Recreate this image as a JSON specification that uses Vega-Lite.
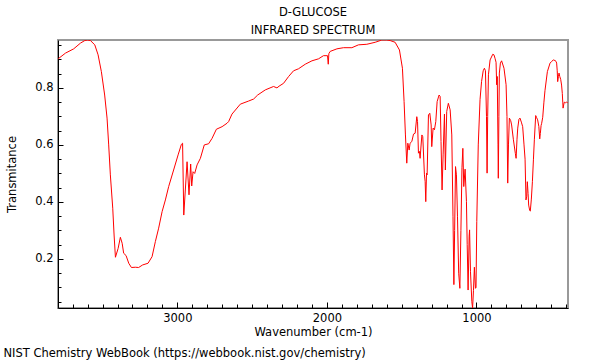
{
  "$schema": "https://vega.github.io/schema/vega-lite/v6.json",
  "width": 510,
  "height": 268,
  "autosize": {"type": "none"},
  "padding": {"left": 58, "top": 40, "right": 32, "bottom": 52},
  "background": "white",
  "config": {"font": "DejaVu Sans", "view": {"stroke": "#999999", "strokeWidth": 2}},
  "title": {"text": ["D-GLUCOSE", "INFRARED SPECTRUM"], "fontSize": 11.5, "fontWeight": "normal", "lineHeight": 18, "offset": 4, "anchor": "middle", "color": "black"},
  "data": {"values": [
    {"wn": 3797, "t": 0.902}, {"wn": 3748, "t": 0.922}, {"wn": 3693, "t": 0.937}, {"wn": 3648, "t": 0.957},
    {"wn": 3619, "t": 0.966}, {"wn": 3600, "t": 0.968}, {"wn": 3581, "t": 0.966}, {"wn": 3552, "t": 0.951},
    {"wn": 3530, "t": 0.916}, {"wn": 3508, "t": 0.857}, {"wn": 3486, "t": 0.775}, {"wn": 3470, "t": 0.694},
    {"wn": 3459, "t": 0.6}, {"wn": 3448, "t": 0.495}, {"wn": 3432, "t": 0.378}, {"wn": 3423, "t": 0.284},
    {"wn": 3414, "t": 0.206}, {"wn": 3396, "t": 0.237}, {"wn": 3381, "t": 0.276}, {"wn": 3369, "t": 0.255},
    {"wn": 3359, "t": 0.22}, {"wn": 3343, "t": 0.212}, {"wn": 3325, "t": 0.185}, {"wn": 3307, "t": 0.17},
    {"wn": 3281, "t": 0.171}, {"wn": 3259, "t": 0.17}, {"wn": 3232, "t": 0.179}, {"wn": 3196, "t": 0.185},
    {"wn": 3169, "t": 0.208}, {"wn": 3147, "t": 0.261}, {"wn": 3125, "t": 0.308}, {"wn": 3102, "t": 0.366},
    {"wn": 3080, "t": 0.407}, {"wn": 3058, "t": 0.454}, {"wn": 3025, "t": 0.512}, {"wn": 2995, "t": 0.565},
    {"wn": 2973, "t": 0.602}, {"wn": 2965, "t": 0.606}, {"wn": 2957, "t": 0.354}, {"wn": 2935, "t": 0.541},
    {"wn": 2922, "t": 0.425}, {"wn": 2911, "t": 0.533}, {"wn": 2904, "t": 0.456}, {"wn": 2895, "t": 0.506},
    {"wn": 2884, "t": 0.5}, {"wn": 2868, "t": 0.53}, {"wn": 2846, "t": 0.553}, {"wn": 2820, "t": 0.6},
    {"wn": 2791, "t": 0.604}, {"wn": 2768, "t": 0.623}, {"wn": 2739, "t": 0.655}, {"wn": 2701, "t": 0.664},
    {"wn": 2668, "t": 0.676}, {"wn": 2657, "t": 0.682}, {"wn": 2635, "t": 0.708}, {"wn": 2579, "t": 0.743},
    {"wn": 2523, "t": 0.754}, {"wn": 2490, "t": 0.761}, {"wn": 2463, "t": 0.775}, {"wn": 2412, "t": 0.793},
    {"wn": 2357, "t": 0.805}, {"wn": 2334, "t": 0.8}, {"wn": 2320, "t": 0.806}, {"wn": 2290, "t": 0.816},
    {"wn": 2256, "t": 0.84}, {"wn": 2223, "t": 0.86}, {"wn": 2190, "t": 0.867}, {"wn": 2145, "t": 0.883},
    {"wn": 2100, "t": 0.895}, {"wn": 2056, "t": 0.902}, {"wn": 2023, "t": 0.913}, {"wn": 1996, "t": 0.913},
    {"wn": 1991, "t": 0.883}, {"wn": 1987, "t": 0.92}, {"wn": 1978, "t": 0.928}, {"wn": 1933, "t": 0.937},
    {"wn": 1889, "t": 0.941}, {"wn": 1833, "t": 0.941}, {"wn": 1789, "t": 0.951}, {"wn": 1733, "t": 0.953},
    {"wn": 1677, "t": 0.96}, {"wn": 1633, "t": 0.968}, {"wn": 1600, "t": 0.968}, {"wn": 1577, "t": 0.966},
    {"wn": 1544, "t": 0.96}, {"wn": 1515, "t": 0.933}, {"wn": 1495, "t": 0.869}, {"wn": 1484, "t": 0.752},
    {"wn": 1475, "t": 0.635}, {"wn": 1466, "t": 0.536}, {"wn": 1459, "t": 0.606}, {"wn": 1450, "t": 0.582},
    {"wn": 1444, "t": 0.606}, {"wn": 1432, "t": 0.612}, {"wn": 1421, "t": 0.638}, {"wn": 1410, "t": 0.641},
    {"wn": 1399, "t": 0.699}, {"wn": 1394, "t": 0.682}, {"wn": 1388, "t": 0.571}, {"wn": 1381, "t": 0.577},
    {"wn": 1377, "t": 0.553}, {"wn": 1365, "t": 0.635}, {"wn": 1359, "t": 0.629}, {"wn": 1348, "t": 0.495},
    {"wn": 1343, "t": 0.471}, {"wn": 1339, "t": 0.401}, {"wn": 1334, "t": 0.501}, {"wn": 1330, "t": 0.495},
    {"wn": 1321, "t": 0.705}, {"wn": 1312, "t": 0.711}, {"wn": 1303, "t": 0.67}, {"wn": 1299, "t": 0.594},
    {"wn": 1290, "t": 0.659}, {"wn": 1281, "t": 0.653}, {"wn": 1272, "t": 0.682}, {"wn": 1263, "t": 0.752},
    {"wn": 1250, "t": 0.775}, {"wn": 1243, "t": 0.77}, {"wn": 1237, "t": 0.612}, {"wn": 1230, "t": 0.442},
    {"wn": 1223, "t": 0.565}, {"wn": 1214, "t": 0.708}, {"wn": 1208, "t": 0.512}, {"wn": 1199, "t": 0.717},
    {"wn": 1188, "t": 0.746}, {"wn": 1176, "t": 0.723}, {"wn": 1165, "t": 0.635}, {"wn": 1157, "t": 0.35},
    {"wn": 1151, "t": 0.11}, {"wn": 1146, "t": 0.3}, {"wn": 1140, "t": 0.524}, {"wn": 1134, "t": 0.495},
    {"wn": 1127, "t": 0.35}, {"wn": 1119, "t": 0.15}, {"wn": 1111, "t": 0.097}, {"wn": 1104, "t": 0.3},
    {"wn": 1097, "t": 0.52}, {"wn": 1091, "t": 0.588}, {"wn": 1085, "t": 0.454}, {"wn": 1076, "t": 0.515},
    {"wn": 1067, "t": 0.401}, {"wn": 1062, "t": 0.25}, {"wn": 1056, "t": 0.091}, {"wn": 1049, "t": 0.28},
    {"wn": 1046, "t": 0.302}, {"wn": 1040, "t": 0.155}, {"wn": 1031, "t": 0.05}, {"wn": 1026, "t": 0.028},
    {"wn": 1020, "t": 0.09}, {"wn": 1014, "t": 0.171}, {"wn": 1007, "t": 0.097}, {"wn": 1003, "t": 0.1},
    {"wn": 998, "t": 0.331}, {"wn": 988, "t": 0.6}, {"wn": 976, "t": 0.76}, {"wn": 966, "t": 0.822},
    {"wn": 955, "t": 0.86}, {"wn": 947, "t": 0.869}, {"wn": 940, "t": 0.86}, {"wn": 933, "t": 0.7},
    {"wn": 929, "t": 0.501}, {"wn": 925, "t": 0.7}, {"wn": 920, "t": 0.846}, {"wn": 909, "t": 0.898},
    {"wn": 891, "t": 0.918}, {"wn": 883, "t": 0.916}, {"wn": 876, "t": 0.904}, {"wn": 869, "t": 0.89},
    {"wn": 865, "t": 0.811}, {"wn": 861, "t": 0.84}, {"wn": 856, "t": 0.6}, {"wn": 854, "t": 0.483},
    {"wn": 850, "t": 0.7}, {"wn": 847, "t": 0.852}, {"wn": 840, "t": 0.887}, {"wn": 832, "t": 0.895},
    {"wn": 816, "t": 0.869}, {"wn": 802, "t": 0.811}, {"wn": 796, "t": 0.7}, {"wn": 791, "t": 0.466},
    {"wn": 786, "t": 0.6}, {"wn": 780, "t": 0.694}, {"wn": 771, "t": 0.685}, {"wn": 765, "t": 0.67},
    {"wn": 753, "t": 0.618}, {"wn": 740, "t": 0.57}, {"wn": 735, "t": 0.553}, {"wn": 729, "t": 0.62},
    {"wn": 724, "t": 0.659}, {"wn": 716, "t": 0.69}, {"wn": 709, "t": 0.694}, {"wn": 700, "t": 0.68},
    {"wn": 691, "t": 0.664}, {"wn": 682, "t": 0.6}, {"wn": 675, "t": 0.55}, {"wn": 669, "t": 0.407},
    {"wn": 664, "t": 0.42}, {"wn": 660, "t": 0.471}, {"wn": 655, "t": 0.43}, {"wn": 651, "t": 0.389},
    {"wn": 644, "t": 0.37}, {"wn": 640, "t": 0.368}, {"wn": 633, "t": 0.41}, {"wn": 626, "t": 0.471},
    {"wn": 619, "t": 0.55}, {"wn": 613, "t": 0.618}, {"wn": 604, "t": 0.703}, {"wn": 598, "t": 0.696},
    {"wn": 591, "t": 0.688}, {"wn": 583, "t": 0.665}, {"wn": 577, "t": 0.621}, {"wn": 573, "t": 0.64},
    {"wn": 568, "t": 0.668}, {"wn": 564, "t": 0.676}, {"wn": 557, "t": 0.697}, {"wn": 549, "t": 0.75},
    {"wn": 542, "t": 0.79}, {"wn": 526, "t": 0.857}, {"wn": 508, "t": 0.887}, {"wn": 497, "t": 0.893},
    {"wn": 486, "t": 0.898}, {"wn": 475, "t": 0.896}, {"wn": 468, "t": 0.893}, {"wn": 464, "t": 0.887},
    {"wn": 460, "t": 0.86}, {"wn": 457, "t": 0.822}, {"wn": 452, "t": 0.84}, {"wn": 448, "t": 0.852},
    {"wn": 443, "t": 0.84}, {"wn": 437, "t": 0.83}, {"wn": 431, "t": 0.81}, {"wn": 426, "t": 0.78},
    {"wn": 423, "t": 0.75}, {"wn": 421, "t": 0.729}, {"wn": 417, "t": 0.74}, {"wn": 413, "t": 0.75},
    {"wn": 405, "t": 0.748}, {"wn": 397, "t": 0.75}, {"wn": 390, "t": 0.748}
  ]},
  "layer": [
    {
      "mark": {"type": "line", "color": "#ff0000", "strokeWidth": 1, "clip": true},
      "encoding": {
        "x": {"field": "wn", "type": "quantitative",
          "scale": {"domain": [388, 3798], "reverse": true, "nice": false, "zero": false},
          "axis": {"orient": "bottom", "values": [1000, 2000, 3000], "format": "d", "grid": false, "tickSize": -6, "tickColor": "#000", "domainColor": "#000",
            "labelFontSize": 11.5, "labelColor": "#000", "labelPadding": 10, "labelFont": "DejaVu Sans",
            "title": "Wavenumber (cm-1)", "titleFontSize": 11.5, "titleFontWeight": "normal", "titleColor": "#000", "titlePadding": 3, "titleFont": "DejaVu Sans"}},
        "y": {"field": "t", "type": "quantitative",
          "scale": {"domain": [0.028, 0.968], "nice": false, "zero": false},
          "axis": {"orient": "left", "values": [0.2, 0.4, 0.6, 0.8], "format": ".1f", "grid": false, "tickSize": -5, "tickColor": "#000", "domainColor": "#000",
            "labelFontSize": 11.5, "labelColor": "#000", "labelPadding": 10, "labelFont": "DejaVu Sans",
            "title": "Transmitance", "titleFontSize": 11.5, "titleFontWeight": "normal", "titleColor": "#000", "titlePadding": 17, "titleFont": "DejaVu Sans"}}
      }
    },
    {
      "mark": {"type": "line", "opacity": 0},
      "encoding": {
        "x": {"field": "wn", "type": "quantitative",
          "axis": {"orient": "bottom", "values": [400, 500, 600, 700, 800, 900, 1100, 1200, 1300, 1400, 1500, 1600, 1700, 1800, 1900, 2100, 2200, 2300, 2400, 2500, 2600, 2700, 2800, 2900, 3100, 3200, 3300, 3400, 3500, 3600, 3700],
            "labels": false, "domain": false, "grid": false, "tickSize": -4, "tickColor": "#000",
            "title": "NIST Chemistry WebBook (https://webbook.nist.gov/chemistry)", "titleFontSize": 11.5, "titleFontWeight": "normal", "titleColor": "#000", "titleFont": "DejaVu Sans",
            "titleAnchor": "start", "titleAlign": "left", "titleX": -55, "titleY": 48, "titleBaseline": "alphabetic"}},
        "y": {"field": "t", "type": "quantitative",
          "axis": {"orient": "left", "values": [0.05, 0.1, 0.15, 0.25, 0.3, 0.35, 0.45, 0.5, 0.55, 0.65, 0.7, 0.75, 0.85, 0.9, 0.95],
            "labels": false, "domain": false, "grid": false, "tickSize": -3, "tickColor": "#000", "title": null}}
      }
    }
  ],
  "resolve": {"axis": {"x": "independent", "y": "independent"}}
}
